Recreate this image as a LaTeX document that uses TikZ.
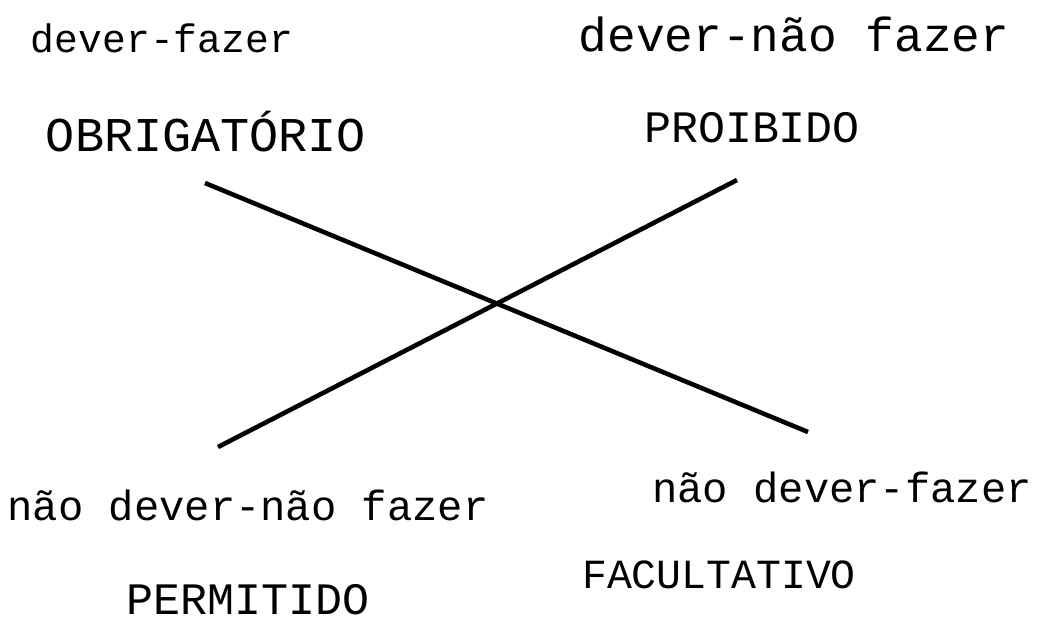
\documentclass[tikz,border=0pt]{standalone}
\usepackage{fontspec}
\setmonofont{Liberation Mono}
\begin{document}
\begin{tikzpicture}[
    termo/.style={font=\ttfamily\fontsize{12}{14}\selectfont, inner sep=0pt},
    modal/.style={font=\ttfamily\fontsize{12.8}{15}\selectfont, inner sep=0pt},
    traco/.style={line width=1.3pt}
]

\useasboundingbox (0,0) rectangle (10.43,6.28);

% Modalidades (em cima)
\node[termo, font=\ttfamily\fontsize{11.3}{14}\selectfont] (df) at (1.62,5.90) {dever-fazer};
\node[termo, font=\ttfamily\fontsize{13.6}{16}\selectfont] (dnf) at (7.94,5.94) {dever-não fazer};
\node[modal, font=\ttfamily\fontsize{13.8}{16}\selectfont] (obr) at (2.06,4.96) {OBRIGATÓRIO};
\node[modal] (pro) at (7.52,5.00) {PROIBIDO};

% Modalidades (em baixo)
\node[termo] (ndnf) at (2.48,1.23) {não dever-não fazer};
\node[termo] (ndf) at (8.42,1.41) {não dever-fazer};
\node[modal] (per) at (2.48,0.28) {PERMITIDO};
\node[modal, font=\ttfamily\fontsize{11.8}{14}\selectfont] (fac) at (7.19,0.53) {FACULTATIVO};

% Extremidades das diagonais
\coordinate (A) at (2.05,4.45);
\coordinate (B) at (8.08,1.96);
\coordinate (C) at (7.37,4.48);
\coordinate (D) at (2.18,1.81);

% Diagonais
\draw[traco] (A) -- (B);
\draw[traco] (C) -- (D);

\end{tikzpicture}
\end{document}
